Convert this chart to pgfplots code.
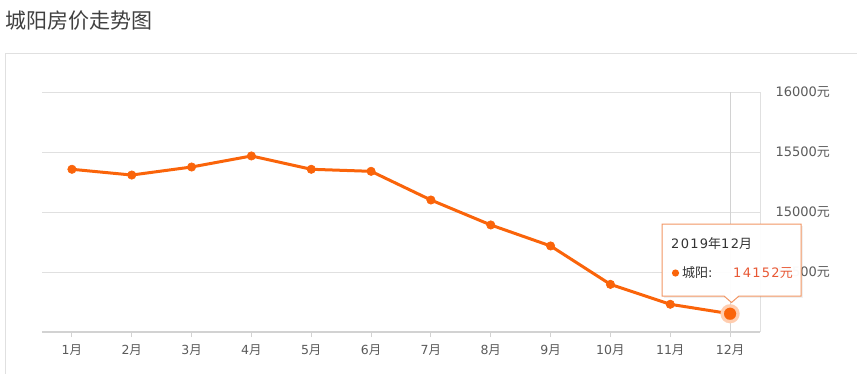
\documentclass[border=0pt]{standalone}
\usepackage{pgfplots}
\pgfplotsset{compat=1.18}
\usepackage{fontspec}
\setmainfont{DejaVu Sans}
\newfontfamily\cjk{Noto Sans CJK SC}
\newfontfamily\dvs[LetterSpace=10]{DejaVu Sans}
\definecolor{lineor}{RGB}{250,100,10}
\definecolor{halo}{RGB}{255,205,175}
\definecolor{tipbd}{RGB}{242,150,100}
\definecolor{valred}{RGB}{232,88,52}
\definecolor{gridc}{RGB}{224,224,224}
\definecolor{axc}{RGB}{210,210,210}
\definecolor{txt}{RGB}{90,90,90}
\newcommand\yue{{\cjk 月}}
\newcommand\yuan{{\cjk 元}}
\begin{document}
\begin{tikzpicture}[x=1pt,y=1pt]
\useasboundingbox (0,0) rectangle (857,373);
% panel border
\draw[color=gridc, line width=1pt] (5.5,-10) -- (5.5,319.5) -- (870,319.5);
% title
\node[anchor=west, inner sep=0pt, text=black!75, font=\cjk\fontsize{21}{24}\selectfont] at (5,352) {城阳房价走势图};
\begin{axis}[
  at={(42pt,41pt)}, anchor=south west, scale only axis,
  width=718pt, height=240pt,
  xmin=-0.5, xmax=11.5, ymin=14000, ymax=16000,
  scaled y ticks=false,
  axis x line*=bottom, axis y line*=right,
  x axis line style={color=axc, line width=2pt, -},
  y axis line style={color=gridc, line width=1pt, -},
  xtick={0,...,11},
  xticklabels={1\yue,2\yue,3\yue,4\yue,5\yue,6\yue,7\yue,8\yue,9\yue,10\yue,11\yue,12\yue},
  ytick={14500,15000,15500,16000},
  yticklabels={14500\yuan,15000\yuan,15500\yuan,16000\yuan},
  ymajorgrids, grid style={color=gridc, line width=1pt},
  x tick style={color=axc, line width=1pt},
  y tick style={draw=none},
  tick align=outside, major tick length=5pt,
  xticklabel style={font=\fontsize{12.5}{14}\selectfont, text=txt, yshift=-4pt},
  yticklabel style={font=\fontsize{13}{15}\selectfont, text=txt, xshift=7pt},
  clip=false,
]
\addplot[color=axc, line width=1pt, forget plot] coordinates {(11,14000) (11,16000)};
\addplot[color=lineor, line width=3pt, mark=*, mark size=4.2pt, mark options={solid, fill=lineor, draw=lineor, line width=0.6pt}] coordinates {
(0,15356) (1,15308) (2,15375) (3,15467) (4,15356) (5,15339)
(6,15100) (7,14892) (8,14717) (9,14397) (10,14231) (11,14152)};
\addplot[color=halo, only marks, mark=*, mark size=9.5pt, mark options={solid, fill=halo, draw=halo, line width=0.1pt}] coordinates {(11,14152)};
\addplot[color=lineor, only marks, mark=*, mark size=6pt, mark options={solid, fill=lineor, draw=lineor, line width=0.1pt}] coordinates {(11,14152)};
\end{axis}
% tooltip
\fill[black, opacity=0.06] (664,147) -- (803,147) -- (803,75) -- (664,75) -- cycle;
\draw[color=tipbd, line width=1pt, fill=white, fill opacity=0.97]
  (662,149) -- (801,149) -- (801,77) -- (739,77) -- (731.5,70.5) -- (724,77) -- (662,77) -- cycle;
\node[anchor=west, inner sep=0pt, text=black!80, font=\fontsize{13}{15}\selectfont] at (671,129) {{\dvs 2019}{\cjk 年}{\dvs 12}{\cjk 月}};
\fill[lineor] (675.5,100) circle (3.6);
\node[anchor=west, inner sep=0pt, text=black!80, font=\fontsize{13}{15}\selectfont] at (682,100) {{\cjk 城阳}:};
\node[anchor=west, inner sep=0pt, text=valred, font=\fontsize{13}{15}\selectfont] at (733,100) {{\dvs 14152}{\cjk 元}};
\end{tikzpicture}
\end{document}
